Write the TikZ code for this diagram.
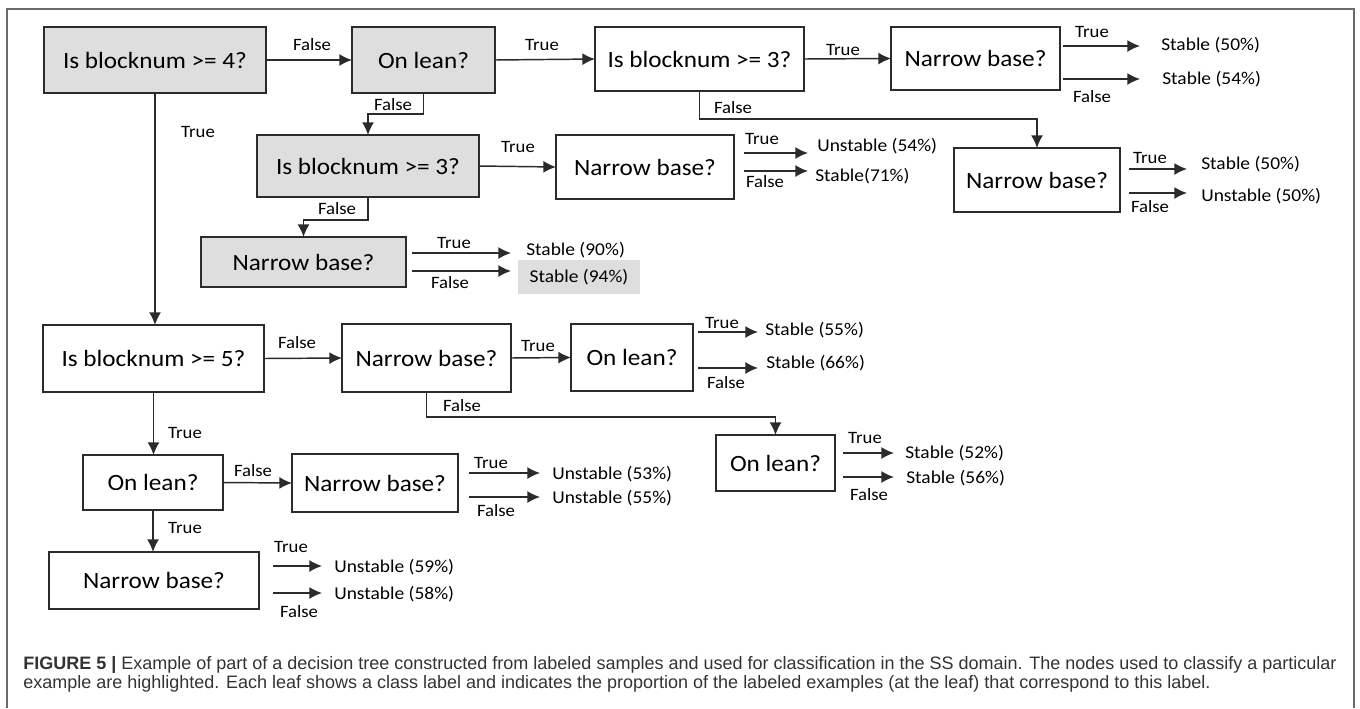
\documentclass[tikz,border=0pt]{standalone}
\usepackage{fontspec}
\setmainfont[FakeStretch=1.08]{Carlito}
\newfontfamily\capfont{Liberation Sans}
\usetikzlibrary{arrows.meta}
\definecolor{boxgray}{HTML}{DEDEDE}
\definecolor{linec}{HTML}{2B2B2B}
\definecolor{framec}{HTML}{6A6A6A}
\definecolor{capc}{HTML}{333333}
\tikzset{
  qbox/.style={draw=linec, line width=1.1pt, inner sep=0pt, outer sep=0pt, font=\fontsize{17.5}{20}\selectfont, text=black},
  gbox/.style={qbox, fill=boxgray},
  wbox/.style={qbox, fill=white},
  arr/.style={draw=linec, line width=1.1pt, -{Latex[length=9.5pt,width=9pt]}},
  lbl/.style={inner sep=0pt, font=\fontsize{13}{15}\selectfont, text=black},
  leaf/.style={inner sep=0pt, anchor=west, font=\fontsize{13.5}{16}\selectfont, text=black},
  captxt/.style={anchor=west, inner sep=0pt, text=capc, font=\capfont\fontsize{13.5}{16}\selectfont},
}
\newcommand{\leafarrow}[4]{%
  \coordinate (#1-s) at (#2,#4); \coordinate (#1-e) at (#3,#4);
  \draw[arr] (#1-s) -- (#1-e);}
\begin{document}
\begin{tikzpicture}[x=0.75pt,y=-0.75pt]
\useasboundingbox (0,0) rectangle (1360,708);
\draw[framec, line width=1.1pt] (7,708) -- (7,9) -- (1354,9) -- (1354,708);

% decision nodes
\node[gbox, minimum width=0.75*222pt, minimum height=0.75*66pt] (n1) at (155,60) {Is blocknum >= 4?};
\node[gbox, minimum width=0.75*143pt, minimum height=0.75*66pt] (n2) at (423.5,60) {On lean?};
\node[wbox, minimum width=0.75*209pt, minimum height=0.75*64pt] (n3) at (699.5,59) {Is blocknum >= 3?};
\node[wbox, minimum width=0.75*169pt, minimum height=0.75*63pt] (n4) at (975.5,58.5) {Narrow base?};
\node[gbox, minimum width=0.75*222pt, minimum height=0.75*62pt] (n5) at (368,166) {Is blocknum >= 3?};
\node[wbox, minimum width=0.75*178pt, minimum height=0.75*64pt] (n6) at (645,167) {Narrow base?};
\node[gbox, minimum width=0.75*205pt, minimum height=0.75*50pt] (n7) at (303.5,262) {Narrow base?};
\node[wbox, minimum width=0.75*166pt, minimum height=0.75*64pt] (n8) at (1037,180) {Narrow base?};
\node[wbox, minimum width=0.75*221pt, minimum height=0.75*67pt] (n9) at (153.5,358.5) {Is blocknum >= 5?};
\node[wbox, minimum width=0.75*169pt, minimum height=0.75*68pt] (n10) at (426.5,358) {Narrow base?};
\node[wbox, minimum width=0.75*122pt, minimum height=0.75*67pt] (n11) at (632,357.5) {On lean?};
\node[wbox, minimum width=0.75*119pt, minimum height=0.75*56pt] (n12) at (775.5,463) {On lean?};
\node[wbox, minimum width=0.75*140pt, minimum height=0.75*55pt] (n13) at (153,482.5) {On lean?};
\node[wbox, minimum width=0.75*166pt, minimum height=0.75*58pt] (n14) at (375,483) {Narrow base?};
\node[wbox, minimum width=0.75*210pt, minimum height=0.75*57pt] (n15) at (154,580.5) {Narrow base?};

% connectors between decision nodes
\draw[arr] (n1.east) -- (n2.west);
\draw[arr] (n2.east) -- (n3.west);
\draw[arr] (n3.east) -- (n4.west);
\draw[arr] (n2.south) -- ++(0,21) -| (n5.north);
\draw[arr] (n3.south) -- ++(0,28) -| (n8.north);
\draw[arr] (n5.east) -- (n6.west);
\draw[arr] (n5.south) -- ++(0,23) -| (n7.north);
\draw[arr] (n1.south) -- (n1.south |- n9.north);
\draw[arr] (n9.east) -- (n10.west);
\draw[arr] (n10.east) -- (n11.west);
\draw[arr] (n10.south) -- ++(0,25) -| (n12.north);
\draw[arr] (n9.south) -- (n9.south |- n13.north);
\draw[arr] (n13.east) -- (n14.west);
\draw[arr] (n13.south) -- (n13.south |- n15.north);

% connector labels
\node[lbl] (c1) at (312,45) {False};
\node[lbl] (c2) at (542,45) {True};
\node[lbl] (c3) at (843,50) {True};
\node[lbl] (c4) at (393,105) {False};
\node[lbl] (c5) at (733,108) {False};
\node[lbl] (c6) at (198,132) {True};
\node[lbl] (c7) at (518,147) {True};
\node[lbl] (c8) at (337,209) {False};
\node[lbl] (c9) at (297,343) {False};
\node[lbl] (c10) at (538,346) {True};
\node[lbl] (c11) at (462,406) {False};
\node[lbl] (c12) at (185,433) {True};
\node[lbl] (c13) at (253,471) {False};
\node[lbl] (c14) at (185,528) {True};

% leaves of n4
\leafarrow{a4t}{1063}{1140}{46}
\leafarrow{a4f}{1063}{1140}{79}
\node[lbl] (t4) at (1092,32) {True};
\node[lbl] (f4) at (1092,97) {False};
\node[leaf] (l4t) at (1161,45) {Stable (50\%)};
\node[leaf] (l4f) at (1162,79) {Stable (54\%)};

% leaves of n6
\leafarrow{a6t}{744}{808}{153}
\leafarrow{a6f}{744}{808}{171}
\node[lbl] (t6) at (762,139) {True};
\node[lbl] (f6) at (765,182) {False};
\node[leaf] (l6t) at (817,146) {Unstable (54\%)};
\node[leaf] (l6f) at (815,176) {Stable(71\%)};

% leaves of n8
\leafarrow{a8t}{1129}{1187}{169}
\leafarrow{a8f}{1129}{1187}{193}
\node[lbl] (t8) at (1150,158) {True};
\node[lbl] (f8) at (1150,207) {False};
\node[leaf] (l8t) at (1201,164) {Stable (50\%)};
\node[leaf] (l8f) at (1201,196) {Unstable (50\%)};

% leaves of n7
\leafarrow{a7t}{412}{511}{253}
\leafarrow{a7f}{412}{511}{271}
\node[lbl] (t7) at (454,243) {True};
\node[lbl] (f7) at (450,283) {False};
\node[leaf] (l7t) at (526,250) {Stable (90\%)};
\node[inner sep=0pt, fill=boxgray, minimum width=0.75*122pt, minimum height=0.75*34pt, font=\fontsize{13.5}{16}\selectfont] (l7f) at (579,277) {Stable (94\%)};

% leaves of n11
\leafarrow{a11t}{698}{758}{332}
\leafarrow{a11f}{698}{758}{368}
\node[lbl] (t11) at (722,323) {True};
\node[lbl] (f11) at (726,383) {False};
\node[leaf] (l11t) at (765,330) {Stable (55\%)};
\node[leaf] (l11f) at (766,363) {Stable (66\%)};

% leaves of n12
\leafarrow{a12t}{843}{894}{453}
\leafarrow{a12f}{843}{894}{477}
\node[lbl] (t12) at (865,438) {True};
\node[lbl] (f12) at (869,495) {False};
\node[leaf] (l12t) at (905,453) {Stable (52\%)};
\node[leaf] (l12f) at (906,478) {Stable (56\%)};

% leaves of n14
\leafarrow{a14t}{469}{540}{473}
\leafarrow{a14f}{469}{540}{497}
\node[lbl] (t14) at (491,463) {True};
\node[lbl] (f14) at (496,511) {False};
\node[leaf] (l14t) at (552,474) {Unstable (53\%)};
\node[leaf] (l14f) at (552,498) {Unstable (55\%)};

% leaves of n15
\leafarrow{a15t}{273}{322}{566}
\leafarrow{a15f}{273}{322}{593}
\node[lbl] (t15) at (291,547) {True};
\node[lbl] (f15) at (299,612) {False};
\node[leaf] (l15t) at (334,567) {Unstable (59\%)};
\node[leaf] (l15f) at (334,594) {Unstable (58\%)};

% caption
\node[captxt] (cap1) at (23,665) {\textbf{FIGURE 5 |} Example of part of a decision tree constructed from labeled samples and used for classification in the SS domain. The nodes used to classify a particular};
\node[captxt] (cap2) at (23,684) {example are highlighted. Each leaf shows a class label and indicates the proportion of the labeled examples (at the leaf) that correspond to this label.};
\end{tikzpicture}
\end{document}
